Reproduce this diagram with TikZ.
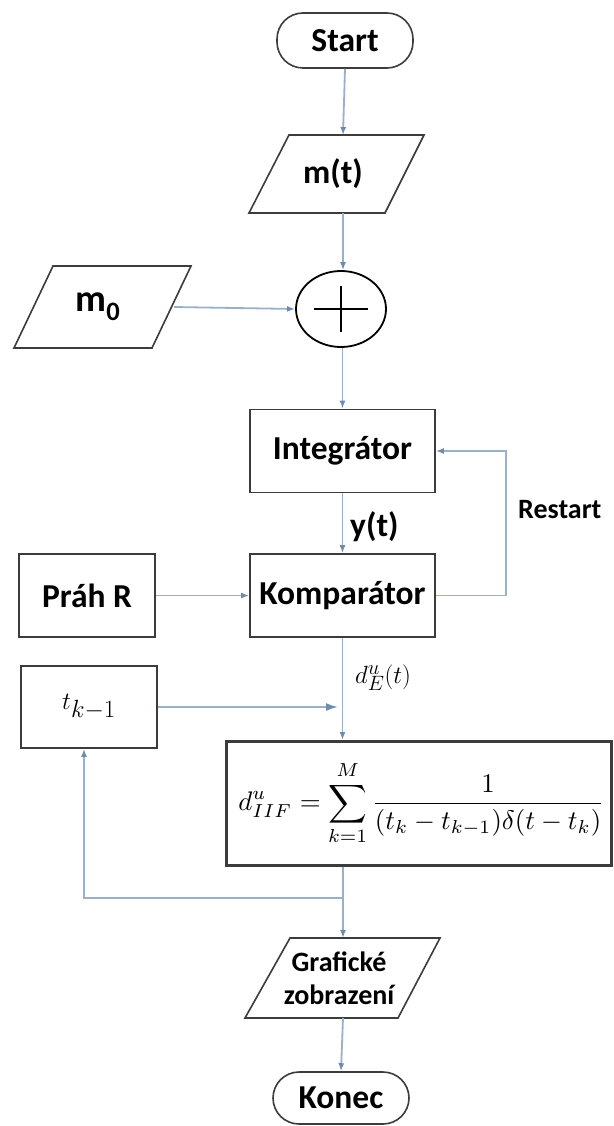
\documentclass[tikz,border=0pt]{standalone}
\usepackage{fontspec}
\usepackage{graphicx}
\setmainfont{Carlito}
\usetikzlibrary{arrows.meta,shapes.geometric,calc}
\definecolor{conn}{HTML}{9AAFC8}
\definecolor{head}{HTML}{6F8CAD}
\definecolor{edge}{HTML}{3C3C3C}
\begin{document}
\begin{tikzpicture}[x=1pt,y=-1pt,
  box/.style={draw=edge,line width=1.6pt,fill=white,inner sep=0pt,font=\bfseries\fontsize{33.5}{38}\selectfont},
  term/.style={box,rounded corners=26pt},
  conn/.style={draw=conn,line width=1.8pt,-{Latex[length=8pt,width=6pt,color=head]}},
  bigconn/.style={draw=conn,line width=1.8pt,-{Latex[length=12pt,width=8pt,color=head]}},
  para/.style={draw=edge,line width=1.6pt,fill=white},
  lbl/.style={inner sep=0pt,font=\bfseries\fontsize{33.5}{38}\selectfont},
  small/.style={inner sep=0pt,font=\bfseries\fontsize{28}{33}\selectfont},
  mathlbl/.style={inner sep=0pt,font=\fontsize{32}{36}\selectfont}
]
\useasboundingbox (0,0) rectangle (613,1126);

% Start
\node[term,minimum width=136pt,minimum height=55pt] (start) at (345,40.5) {Start};

% m(t)
\path[para] (289,135) -- (424,135) -- (385,213) -- (249,213) -- cycle;
\node[lbl] (mt) at (333,174) {m(t)};
\coordinate (mtT) at (343,135);
\coordinate (mtB) at (343,213);

% m0
\path[para] (53,266) -- (191,266) -- (152,348) -- (14,348) -- cycle;
\node[lbl,font=\bfseries\fontsize{38}{40}\selectfont] (m0) at (98,307) {m\textsubscript{0}};
\coordinate (m0R) at (174,307);

% sum
\node[draw=black,line width=1.8pt,ellipse,minimum width=90pt,minimum height=76pt,inner sep=0pt] (sum) at (341,309) {};
\draw[line width=1.8pt] ($(sum.center)+(-27,0)$) -- ($(sum.center)+(27,0)$);
\draw[line width=1.8pt] ($(sum.center)+(0,-23)$) -- ($(sum.center)+(0,23)$);

% Integrator, Komparator, Prah
\node[box,minimum width=185pt,minimum height=83pt] (integ) at (342.5,451) {Integrátor};
\node[box,minimum width=185pt,minimum height=83pt] (komp) at (342.5,595.5) {Komparátor};
\node[box,minimum width=136pt,minimum height=83pt] (prah) at (87,595.5) {Práh R};

% t_{k-1}
\node[box,minimum width=136pt,minimum height=82pt,font=\fontsize{33}{36}\selectfont] (tk) at (89,707) {$t_{k-1}$};

% formula
\node[draw=edge,line width=3pt,fill=white,minimum width=385pt,minimum height=124pt,inner sep=0pt] (form) at (418.5,803.5)
  {\hspace*{6pt}\resizebox{366pt}{!}{$\displaystyle d^u_{IIF} = \sum_{k=1}^{M}\frac{1}{(t_k - t_{k-1})\delta(t-t_k)}$}};

% Graficke zobrazeni
\path[para] (290,938) -- (440,938) -- (398,1018) -- (245,1018) -- cycle;
\node[small,align=center] (graf) at (339,978) {Grafické\\zobrazení};
\coordinate (grafT) at (343,938);
\coordinate (grafB) at (343,1018);

% Konec
\node[term,minimum width=136pt,minimum height=52pt] (konec) at (341,1098) {Konec};

% labels
\node[lbl,anchor=west] (yt) at (350,527) {y(t)};
\node[small,anchor=west] (restart) at (518,510) {Restart};
\node[mathlbl,anchor=west] (de) at (355,678) {$d^u_E(t)$};

% connectors
\draw[conn] (start.south) -- (mtT);
\draw[conn] (mtB) -- (mtB |- sum.north);
\draw[conn] (m0R) -- (sum.west);
\draw[conn] (integ.north |- sum.south) -- (integ.north);
\draw[conn] (integ.south) -- (komp.north);
\draw[conn] (prah.east) -- (komp.west);
\draw[conn] (komp.east) -- ++(70,0) |- (integ.east);
\draw[conn] (komp.south) -- (komp.south |- form.north);
\coordinate (tkEnd) at (338,707);
\draw[bigconn] (tk.east) -- (tkEnd);
\coordinate (br) at (343,898);
\draw[conn] (form.south -| grafT) -- (grafT);
\draw[conn] (br) -| ($(tk.south)+(-5,0)$);
\draw[conn] (grafB) -- (konec.north);
\end{tikzpicture}
\end{document}
